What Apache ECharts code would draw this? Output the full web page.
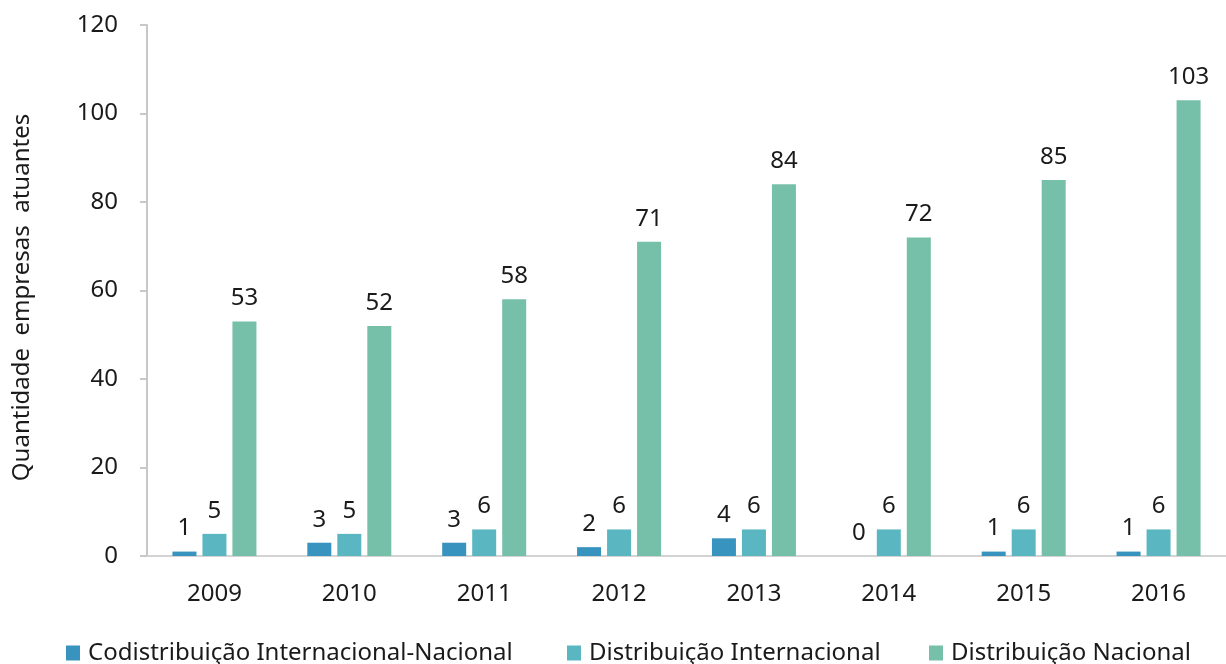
<!DOCTYPE html>
<html><head><meta charset="utf-8">
<script src="https://cdn.jsdelivr.net/npm/echarts@6/dist/echarts.min.js"></script>
<style>html,body{margin:0;padding:0;background:#fff}#c{width:1226px;height:664px}</style>
</head><body><div id="c"></div>
<script>
const categories = ['2009','2010','2011','2012','2013','2014','2015','2016'];
const codistInternacionalNacional = [1,3,3,2,4,0,1,1];
const distInternacional = [5,5,6,6,6,6,6,6];
const distNacional = [53,52,58,71,84,72,85,103];
const seriesNames = ['Codistribuição Internacional-Nacional','Distribuição Internacional','Distribuição Nacional'];
const yTicks = [0,20,40,60,80,100,120];
const colors = ['#3893BE','#5AB7C2','#76BFA8'];
const font = "'Noto Sans', 'Open Sans', sans-serif";
const FS = 24;
const chart = echarts.init(document.getElementById('c'));
const lbl = {show:true, position:'top', distance:11, fontFamily:font, fontSize:FS, color:'#1a1a1a'};
function mk(i, data){
  return {name:seriesNames[i], type:'bar', data:data, barWidth:24, barGap:'25%',
    itemStyle:{color:colors[i]},
    label:lbl, animation:false};
}
const legendLefts = [61, 562, 924];
const legends = seriesNames.map((n,i)=>({
  data:[n], top:636, left:legendLefts[i], itemWidth:14, itemHeight:15, icon:'rect',
  textStyle:{fontFamily:font, fontSize:FS, color:'#1a1a1a', padding:[0,0,0,3]}
}));
chart.setOption({
  animation:false,
  grid:{left:147, right:-9, top:25, bottom:108, containLabel:false},
  legend:legends,
  xAxis:{type:'category', data:categories,
    axisLine:{lineStyle:{color:'#d3d3d3', width:2}}, axisTick:{show:false},
    axisLabel:{fontFamily:font, fontSize:FS, color:'#1a1a1a', margin:26}},
  yAxis:{type:'value', min:yTicks[0], max:yTicks[yTicks.length-1], interval:20,
    name:'Quantidade  empresas  atuantes', nameLocation:'middle', nameGap:113,
    nameTextStyle:{fontFamily:font, fontSize:FS, color:'#1a1a1a', padding:[0,14,0,0]},
    axisLine:{show:true, lineStyle:{color:'#c8c8c8', width:2}},
    axisTick:{show:true, length:7, lineStyle:{color:'#c8c8c8', width:2}},
    splitLine:{show:false},
    axisLabel:{fontFamily:font, fontSize:FS, color:'#1a1a1a', margin:29}},
  series:[mk(0,codistInternacionalNacional), mk(1,distInternacional), mk(2,distNacional)]
});
</script></body></html>
